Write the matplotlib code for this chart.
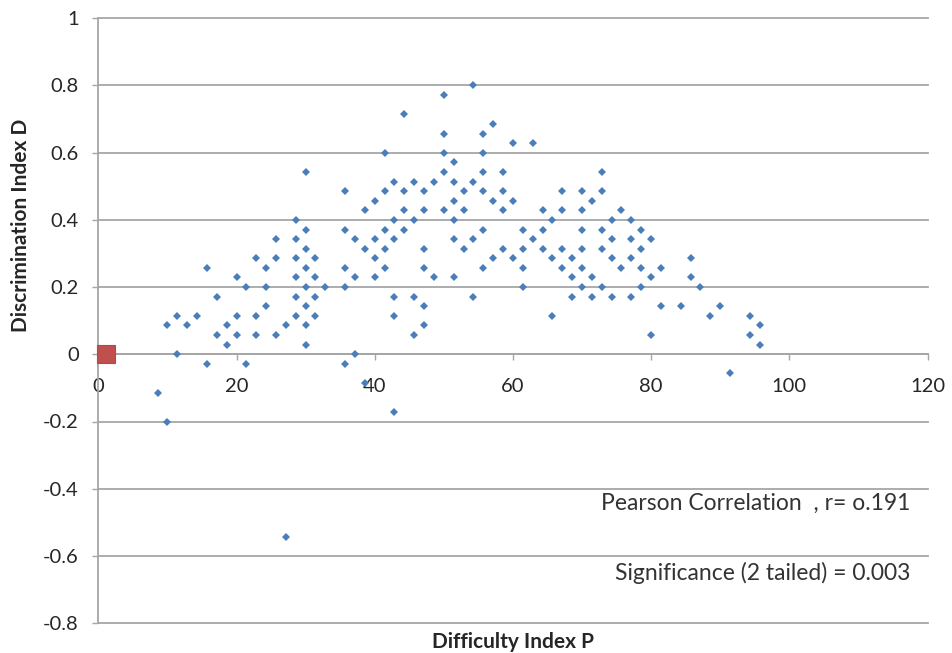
import matplotlib.pyplot as plt

plt.rcParams['font.family'] = ['Lato', 'DejaVu Sans']

# difficulty index P (%) columns and the discrimination index D values sitting on each one
p_cols = [8.57, 10.0, 11.43, 12.86, 14.29, 15.71, 17.14, 18.57, 20.0, 21.43,
          22.86, 24.29, 25.71, 27.14, 28.57, 30.0, 31.43, 32.86, 35.71, 37.14,
          38.57, 40.0, 41.43, 42.86, 44.29, 45.71, 47.14, 48.57, 50.0, 51.43,
          52.86, 54.29, 55.71, 57.14, 58.57, 60.0, 61.43, 62.86, 64.29, 65.71,
          67.14, 68.57, 70.0, 71.43, 72.86, 74.29, 75.71, 77.14, 78.57, 80.0,
          81.43, 84.29, 85.71, 87.14, 88.57, 90.0, 91.43, 94.29, 95.71]
d_cols = [
    [-0.114],
    [0.086, -0.2],
    [0.114, 0.0],
    [0.086],
    [0.114],
    [0.257, -0.029],
    [0.171, 0.057],
    [0.086, 0.029],
    [0.229, 0.114, 0.057],
    [0.2, -0.029],
    [0.286, 0.114, 0.057],
    [0.257, 0.2, 0.143],
    [0.343, 0.286, 0.057],
    [0.086, -0.543],
    [0.4, 0.343, 0.286, 0.229, 0.171, 0.114],
    [0.543, 0.371, 0.314, 0.257, 0.2, 0.143, 0.086, 0.029],
    [0.286, 0.229, 0.171, 0.114],
    [0.2],
    [0.486, 0.371, 0.257, 0.2, -0.029],
    [0.343, 0.229, 0.0],
    [0.429, 0.314, -0.086],
    [0.457, 0.343, 0.286, 0.229],
    [0.6, 0.486, 0.371, 0.314, 0.257],
    [0.514, 0.4, 0.343, 0.171, 0.114, -0.171],
    [0.714, 0.486, 0.429, 0.371],
    [0.514, 0.4, 0.171, 0.057],
    [0.486, 0.429, 0.314, 0.257, 0.143, 0.086],
    [0.514, 0.229],
    [0.771, 0.657, 0.6, 0.543, 0.429],
    [0.571, 0.514, 0.457, 0.4, 0.343, 0.229],
    [0.486, 0.429, 0.314],
    [0.8, 0.514, 0.343, 0.171],
    [0.657, 0.6, 0.543, 0.486, 0.371, 0.257],
    [0.686, 0.457, 0.286],
    [0.543, 0.486, 0.429, 0.314],
    [0.629, 0.457, 0.286],
    [0.371, 0.314, 0.257, 0.2],
    [0.629, 0.343],
    [0.429, 0.371, 0.314],
    [0.4, 0.286, 0.114],
    [0.486, 0.429, 0.314, 0.257],
    [0.286, 0.229, 0.171],
    [0.486, 0.429, 0.371, 0.314, 0.257, 0.2],
    [0.457, 0.229, 0.171],
    [0.543, 0.486, 0.371, 0.314, 0.2],
    [0.4, 0.343, 0.286, 0.171],
    [0.429, 0.257],
    [0.4, 0.343, 0.286, 0.171],
    [0.371, 0.314, 0.257, 0.2],
    [0.343, 0.229, 0.057],
    [0.257, 0.143],
    [0.143],
    [0.286, 0.229],
    [0.2],
    [0.114],
    [0.143],
    [-0.057],
    [0.114, 0.057],
    [0.086, 0.029],
]

# second series: the single red square near the origin
red_p = [1.1]
red_d = [0.0]

y_ticks = [-0.8, -0.6, -0.4, -0.2, 0, 0.2, 0.4, 0.6, 0.8, 1]
y_labels = ['-0.8', '-0.6', '-0.4', '-0.2', '0', '0.2', '0.4', '0.6', '0.8', '1']
x_ticks = [0, 20, 40, 60, 80, 100, 120]

p_vals = []
d_vals = []
for p, ds in zip(p_cols, d_cols):
    for d in ds:
        p_vals.append(p)
        d_vals.append(d)

fig = plt.figure(figsize=(9.52, 6.53), dpi=100)
ax = fig.add_axes([98.3 / 952, 1 - 623.1 / 653, (927.5 - 98.3) / 952, (623.1 - 18.3) / 653])

grey = '#a6a6a6'
ax.plot(p_vals, d_vals, linestyle='none', marker='D', markersize=4.3,
        color='#4a7ebb', markeredgewidth=0, zorder=3)
ax.plot(red_p, red_d, linestyle='none', marker='s', markersize=12.5,
        color='#c0504d', markeredgecolor='#b54845', markeredgewidth=0.8, zorder=4, clip_on=False)

ax.set_xlim(0, 120)
ax.set_ylim(-0.8, 1)
ax.set_xticks(x_ticks)
ax.set_yticks(y_ticks)
ax.set_yticklabels(y_labels)

ax.yaxis.grid(True, color=grey, linewidth=1.3)
ax.set_axisbelow(True)
for g in ax.get_ygridlines():
    g.set_clip_on(False)

ax.spines['top'].set_visible(False)
ax.spines['right'].set_visible(False)
ax.spines['left'].set_color(grey)
ax.spines['left'].set_linewidth(1.3)
ax.spines['bottom'].set_position(('data', 0))
ax.spines['bottom'].set_color(grey)
ax.spines['bottom'].set_linewidth(1.3)

ax.tick_params(axis='y', direction='out', length=4, width=1, color=grey,
               pad=10, labelsize=14.5, labelcolor='#262626')
ax.tick_params(axis='x', direction='out', length=4, width=1, color=grey,
               pad=13, labelsize=14.5, labelcolor='#262626')

fig.text(21 / 952, 1 - 332 / 653, 'Discrimination Index D', rotation=90,
         ha='center', va='bottom', fontsize=15, fontweight='bold', color='#262626')
fig.text(513 / 952, 1 - 642 / 653, 'Difficulty Index P', ha='center', va='center',
         fontsize=15, fontweight='bold', color='#262626')

fig.text(910 / 952, 1 - 503 / 653, 'Pearson Correlation  , r= o.191', ha='right',
         va='center', fontsize=16.5, color='#333333')
fig.text(910 / 952, 1 - 573 / 653, 'Significance (2 tailed) = 0.003', ha='right',
         va='center', fontsize=16.5, color='#333333')

fig.savefig('out.png', dpi=100)
